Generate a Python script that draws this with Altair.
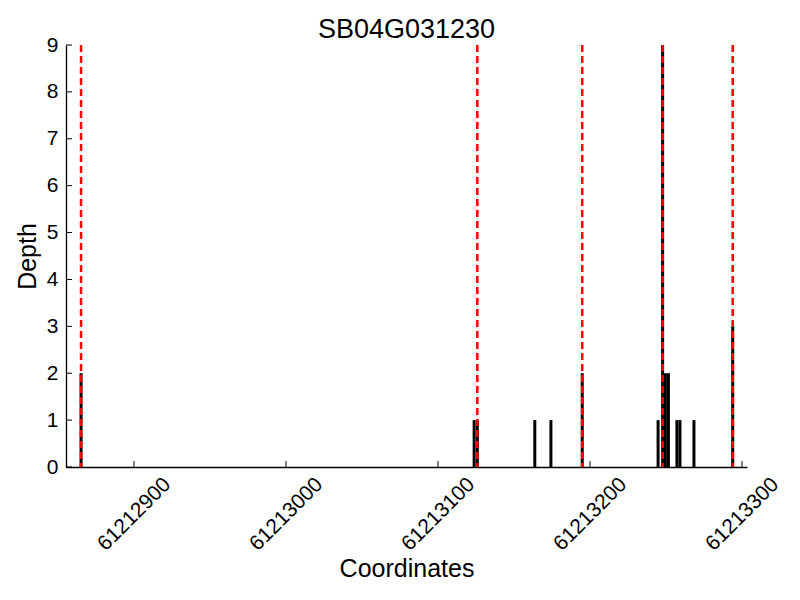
import altair as alt
import pandas as pd

title_text = "SB04G031230"
positions = [61212865.2, 61213123.8, 61213125.9, 61213163.7, 61213174.3,
             61213194.9, 61213244.8, 61213247.8, 61213249.6, 61213251.6,
             61213257.2, 61213259.2, 61213268.4, 61213293.9]
depths = [2, 1, 1, 1, 1, 2, 1, 9, 2, 2, 1, 1, 1, 3]
boundaries = [61212865.2, 61213125.9, 61213194.9, 61213247.8, 61213293.9]
x_ticks = [61212900, 61213000, 61213100, 61213200, 61213300]
y_ticks = list(range(0, 10))
x_domain = [61212855.3, 61213303.3]
y_domain = [0, 9]

bars_df = pd.DataFrame({"pos": positions, "depth": depths})
lines_df = pd.DataFrame({"pos": boundaries})
xt_df = pd.DataFrame({"pos": x_ticks})
yt_df = pd.DataFrame({"depth": y_ticks})

FONT = "Liberation Sans"

x_enc = alt.X(
    "pos:Q",
    scale=alt.Scale(domain=x_domain, nice=False, zero=False, padding=0),
    axis=alt.Axis(
        values=x_ticks, format="d", title="Coordinates",
        labelAngle=315, labelAlign="center", labelBaseline="middle",
        labelPadding=47, ticks=False, labelFontSize=21, labelFont=FONT,
        labelColor="black", titleFontSize=25, titleFont=FONT,
        titleFontWeight="normal", titleColor="black",
        titleY=101, titleBaseline="middle",
        grid=False, domainColor="black", domainWidth=1.3, labelFlush=False,
        labelOverlap=False,
    ),
)
y_enc = alt.Y(
    "depth:Q",
    scale=alt.Scale(domain=y_domain, nice=False, padding=0),
    axis=alt.Axis(
        values=y_ticks, title="Depth", ticks=False, labelPadding=8,
        labelFontSize=21, labelFont=FONT, labelColor="black",
        titleFontSize=25, titleFont=FONT, titleFontWeight="normal",
        titleColor="black", titleAngle=270, titleX=-39, titleY=211,
        titleBaseline="middle", titleAlign="center",
        grid=False, domainColor="black", domainWidth=1.3, labelFlush=False,
    ),
)

bars = alt.Chart(bars_df).mark_bar(size=3, color="black").encode(x=x_enc, y=y_enc)
lines = alt.Chart(lines_df).mark_rule(
    color="red", strokeWidth=2.5, strokeDash=[7, 4]
).encode(x=alt.X("pos:Q"))
xticks = alt.Chart(xt_df).mark_rule(color="black", strokeWidth=1).encode(
    x=alt.X("pos:Q"), y=alt.value(416), y2=alt.value(422)
)
yticks = alt.Chart(yt_df).mark_rule(color="black", strokeWidth=1).encode(
    y=alt.Y("depth:Q"), x=alt.value(0), x2=alt.value(6)
)

chart = alt.layer(bars, lines, xticks, yticks).properties(
    width=681, height=422,
    title=alt.TitleParams(title_text, fontSize=27, font=FONT,
                          fontWeight="normal", color="black", offset=6, dy=16),
    autosize=alt.AutoSizeParams(type="none"),
    padding={"left": 58, "top": 37, "right": 40, "bottom": 120},
).configure_view(stroke=None)

chart.save("out.html", embed_options={"renderer": "svg", "actions": False})
